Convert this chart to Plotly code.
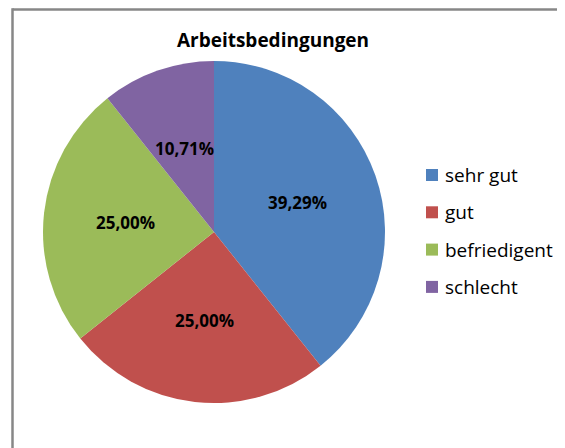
import math
import plotly.graph_objects as go

categories = ["sehr gut", "gut", "befriedigent", "schlecht"]
values = [39.29, 25.00, 25.00, 10.71]
colors = ["#4F81BD", "#C0504D", "#9BBB59", "#8064A2"]
title = "Arbeitsbedingungen"

W, H = 557, 440
FONT = "Open Sans"

# pie geometry (pixels in figure space)
cx, cy, R = 206, 224, 171

fig = go.Figure(go.Pie(
    labels=categories,
    values=values,
    sort=False,
    direction="clockwise",
    rotation=0,
    marker=dict(colors=colors, line=dict(width=0)),
    textinfo="none",
    domain=dict(x=[(cx - R) / W, (cx + R) / W], y=[1 - (cy + R) / H, 1 - (cy - R) / H]),
    hoverinfo="label+percent",
    showlegend=False,
))

annotations = []
total = sum(values)
cum = 0.0
for v in values:
    mid = (cum + v / 2) / total * 2 * math.pi
    cum += v
    px = cx + 0.52 * R * math.sin(mid)
    py = cy - 0.52 * R * math.cos(mid)
    annotations.append(dict(
        x=px / W, y=1 - py / H, xref="paper", yref="paper",
        text="<b>" + f"{v / total * 100:.2f}".replace(".", ",") + "%</b>",
        showarrow=False, xanchor="center", yanchor="middle",
        font=dict(family=FONT, size=17, color="#000000"),
    ))

# legend (drawn manually)
shapes = []
leg_x, leg_y0, leg_dy, sq = 418, 167, 37.3, 12
for i, (c, col) in enumerate(zip(categories, colors)):
    yc = leg_y0 + i * leg_dy
    shapes.append(dict(type="rect", xref="paper", yref="paper",
                       x0=leg_x / W, x1=(leg_x + sq) / W,
                       y0=1 - (yc + sq / 2) / H, y1=1 - (yc - sq / 2) / H,
                       line=dict(width=0), fillcolor=col))
    annotations.append(dict(
        x=(leg_x + sq + 5) / W, y=1 - yc / H, xref="paper", yref="paper",
        text=c, showarrow=False, xanchor="left", yanchor="middle",
        font=dict(family=FONT, size=19, color="#000000"),
    ))

# chart-area border (only top and left edges are inside the view)
border = dict(color="#878787", width=2.5)
shapes.append(dict(type="line", xref="paper", yref="paper",
                   x0=4.5 / W, x1=1.0, y0=1 - 1.5 / H, y1=1 - 1.5 / H, line=border))
shapes.append(dict(type="line", xref="paper", yref="paper",
                   x0=4.5 / W, x1=4.5 / W, y0=0.0, y1=1 - 0.3 / H, line=border))

fig.update_layout(
    width=W, height=H,
    margin=dict(l=0, r=0, t=0, b=0),
    paper_bgcolor="white",
    title=dict(text="<b>" + title + "</b>", x=265 / W, xanchor="center",
               y=1 - 32 / H, yanchor="middle",
               font=dict(family=FONT, size=19, color="#000000")),
    annotations=annotations,
    shapes=shapes,
)

fig.write_html("out.html")
